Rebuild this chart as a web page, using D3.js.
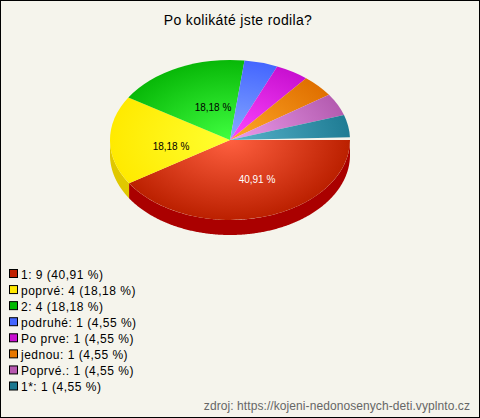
<!DOCTYPE html>
<html><head><meta charset="utf-8">
<script src="https://cdn.jsdelivr.net/npm/d3@7"></script>
<style>html,body{margin:0;padding:0;background:#f5f4ec}svg{display:block}text{font-family:"Liberation Sans",Arial,sans-serif}</style>
</head><body><svg id="c" width="480" height="418"></svg>
<script>
const title = "Po kolikáté jste rodila?";
const source = "zdroj: https://kojeni-nedonosenych-deti.vyplnto.cz";
const categories = ["1","poprvé","2","podruhé","Po prve","jednou","Poprvé.","1*"];
const counts = [9,4,4,1,1,1,1,1];
const percents = ["40,91","18,18","18,18","4,55","4,55","4,55","4,55","4,55"];
const innerColors = ["#ff6040","#ffff30","#40ff40","#88aaff","#ff48ff","#ffa828","#ec9cec","#58b4cc"];
const outerColors = ["#bb2000","#ffea00","#08b808","#4466ff","#c810d0","#e07000","#b45cb0","#1f7c94"];
const wallColors = ["#aa0000","#e0c800"];
const swatchColors = ["#c02000","#ffe800","#00b800","#4466ff","#c810d0","#e87800","#b858b0","#1c7890"];

const W=480,H=418,cx=230,cy=140,rx=120,ry=80,depth=15;
const svg=d3.select("#c");
svg.append("rect").attr("x",.5).attr("y",.5).attr("width",W-1).attr("height",H-1).attr("fill","#f5f4ec").attr("stroke","#000");
svg.append("text").attr("x",238).attr("y",25).attr("text-anchor","middle").attr("font-size",14).attr("letter-spacing",.35).attr("fill","#000").text(title);

const cum=d3.cumsum(counts), total=cum[cum.length-1];
const toAngle=d3.scaleLinear().domain([0,counts[0],total]).range([0,147.27,358]);
const slices=counts.map((v,i)=>({i,a0:toAngle(i?cum[i-1]:0),a1:toAngle(cum[i])}));
const rad=d=>d*Math.PI/180;
const px=d3.scaleLinear().domain([-1,1]).range([cx-rx,cx+rx]);
const py=d3.scaleLinear().domain([-1,1]).range([cy-ry,cy+ry]);

// side walls
const wall=d3.area().x(a=>px(Math.cos(rad(a)))).y0(a=>py(Math.sin(rad(a)))).y1(a=>py(Math.sin(rad(a)))+depth);
[[slices[0].a0,slices[0].a1],[slices[1].a0,180]].forEach((r,k)=>{
  svg.append("path").attr("d",wall(d3.range(r[0],r[1],.5).concat(r[1]))).attr("fill",wallColors[k]);
});

// top faces: unit arcs scaled into an ellipse
const defs=svg.append("defs");
slices.forEach(s=>{
  const g=defs.append("radialGradient").attr("id","g"+s.i).attr("gradientUnits","userSpaceOnUse")
    .attr("cx",0).attr("cy",0).attr("r",rx);
  g.append("stop").attr("offset",0).attr("stop-color",innerColors[s.i]);
  g.append("stop").attr("offset",1).attr("stop-color",outerColors[s.i]);
});
const face=svg.append("g").attr("transform",`translate(${cx},${cy}) scale(1,${ry/rx})`);
const arc=d3.arc().innerRadius(0).outerRadius(rx);
face.selectAll("path").data(slices).join("path")
  .attr("d",s=>arc({startAngle:rad(s.a0+90),endAngle:rad(s.a1+90)}))
  .attr("fill",s=>`url(#g${s.i})`);

// value labels
const labelPos=[[257,183,"#fff"],[171,150,"#000"],[213,111,"#000"]];
labelPos.forEach((p,i)=>{
  svg.append("text").attr("x",p[0]).attr("y",p[1]).attr("text-anchor","middle").attr("font-size",10).attr("fill",p[2]).text(percents[i]+" %");
});

// legend
const ly=d3.scalePoint().domain(d3.range(categories.length)).range([274,386.5]);
const lg=svg.append("g").selectAll("g").data(categories).join("g").attr("transform",(d,i)=>`translate(0,${ly(i)})`);
lg.append("rect").attr("x",9.5).attr("y",-4.5).attr("width",8).attr("height",8).attr("fill",(d,i)=>swatchColors[i]).attr("stroke","#000");
lg.append("text").attr("x",21).attr("y",4.5).attr("font-size",12).attr("letter-spacing",.5).attr("fill","#000")
  .text((d,i)=>`${d}: ${counts[i]} (${percents[i]} %)`);

svg.append("text").attr("x",470).attr("y",410).attr("text-anchor","end").attr("font-size",12).attr("letter-spacing",.08).attr("fill","#666").text(source);
</script></body></html>
